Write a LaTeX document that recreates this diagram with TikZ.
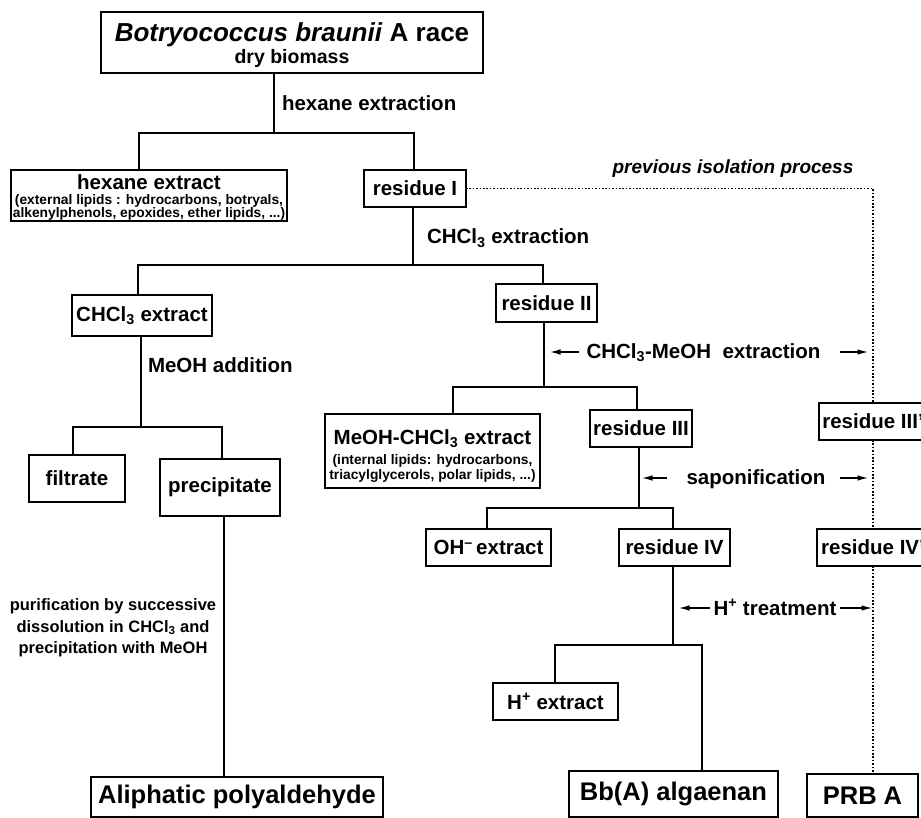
\documentclass[tikz,border=0pt]{standalone}
\usepackage{fontspec}
\setmainfont{Liberation Sans}
\usetikzlibrary{arrows.meta}
\newcommand{\fsz}[1]{\fontsize{#1}{#1}\selectfont}
\newcommand{\strt}[1]{\rule{0pt}{#1}}
\begin{document}
\begin{tikzpicture}[x=1pt,y=-1pt,
  every node/.style={inner sep=0pt, outer sep=0pt},
  box/.style={draw, line width=1.4pt, align=center, font=\bfseries\fsz{20.5}},
  lbl/.style={font=\bfseries\fsz{20.5}, anchor=base},
  conn/.style={line width=1.3pt},
  arr/.style={line width=1.2pt, -{Latex[length=10.5pt,width=5.5pt]}},
  dotl/.style={line width=1.5pt, dash pattern=on 1.5pt off 1.9pt}]
\clip (0,0) rectangle (921,818);

% boxes
\node[box, minimum width=382pt, minimum height=61pt] (top) at (292,42.5)
  {{\fsz{26}\strt{24.5pt}\textit{Botryococcus braunii} A race}\\[1.8pt]{\fsz{19.5}dry biomass}};
\node[box, minimum width=276pt, minimum height=51pt, font=\bfseries\fontsize{13.8}{13.6}\selectfont] (hexext) at (149,195.5)
  {{\fsz{20.5}\strt{19.5pt}hexane extract}\\[0.9pt](external lipids : hydrocarbons, botryals,\\alkenylphenols, epoxides, ether lipids, ...)};
\node[box, minimum width=102pt, minimum height=37pt] (res1) at (415,188.5) {residue I};
\node[box, minimum width=140pt, minimum height=41pt] (chext) at (142,315.5) {CHCl\textsubscript{3} extract};
\node[box, minimum width=101pt, minimum height=38pt] (res2) at (546.5,303) {residue II};
\node[box, minimum width=96pt, minimum height=47pt] (filt) at (77,478.5) {filtrate};
\node[box, minimum width=120pt, minimum height=57pt] (prec) at (220,487.5) {precipitate};
\node[box, minimum width=215pt, minimum height=74pt, font=\bfseries\fontsize{13.8}{14.4}\selectfont] (meohext) at (432.5,451)
  {{\fsz{20.5}\strt{25pt}MeOH-CHCl\textsubscript{3} extract}\\[5.6pt](internal lipids: hydrocarbons,\\triacylglycerols, polar lipids, ...)};
\node[box, minimum width=102pt, minimum height=37pt] (res3) at (641,428.5) {residue III};
\node[box, minimum width=108pt, minimum height=37pt] (res3p) at (873,421.5) {residue III'};
\node[box, minimum width=125pt, minimum height=37pt] (ohext) at (488.5,547.5) {OH\textsuperscript{--}\,extract};
\node[box, minimum width=111pt, minimum height=37pt] (res4) at (674.5,547.5) {residue IV};
\node[box, minimum width=112pt, minimum height=37pt] (res4p) at (873,547.5) {residue IV'};
\node[box, minimum width=125pt, minimum height=37pt] (hext) at (555.5,701.5) {H\textsuperscript{+} extract};
\node[box, minimum width=292pt, minimum height=40pt, font=\bfseries\fsz{25.5}] (aliph) at (237,797) {Aliphatic polyaldehyde};
\node[box, minimum width=209pt, minimum height=46pt, font=\bfseries\fsz{25.5}] (bba) at (673.5,794) {Bb(A) algaenan};
\node[box, minimum width=111pt, minimum height=43pt, font=\bfseries\fsz{25.5}] (prba) at (862.5,795.5) {PRB A};

% labels
\node[lbl, anchor=base west] (lhex) at (282,111) {hexane extraction};
\node[lbl, anchor=base west] (lchl) at (427,244) {CHCl\textsubscript{3} extraction};
\node[lbl, anchor=base west] (lmeoh) at (148,372) {MeOH addition};
\node[lbl, font=\bfseries\itshape\fsz{19}] (lprev) at (733,174) {previous isolation process};
\node[lbl] (lrowa) at (703.5,358.5) {CHCl\textsubscript{3}-MeOH~~extraction};
\node[lbl] (lrowb) at (756,484) {saponification};
\node[lbl] (lrowc) at (775,615) {H\textsuperscript{+} treatment};
\node[align=center, font=\bfseries\fontsize{16.5}{21.5}\selectfont] (lpur) at (113,628)
  {purification by successive\\dissolution in CHCl\textsubscript{3} and\\precipitation with MeOH};

% junctions
\coordinate (J1) at (274,133); \coordinate (L1) at (139,133); \coordinate (R1) at (414,133);
\coordinate (J2) at (413,265); \coordinate (L2) at (138,265); \coordinate (R2) at (543,265);
\coordinate (J3) at (141,427); \coordinate (L3) at (73,427);  \coordinate (R3) at (222,427);
\coordinate (J4) at (224,600);
\coordinate (J5) at (544,387); \coordinate (L5) at (453,387); \coordinate (R5) at (637,387);
\coordinate (J6) at (639,508); \coordinate (L6) at (487,508); \coordinate (R6) at (673,508);
\coordinate (J7) at (673,645); \coordinate (L7) at (555,645); \coordinate (R7) at (702,645);

\draw[conn] (top.south -| J1) -- (J1);
\draw[conn] (hexext.north -| L1) -- (L1) -- (R1) -- (res1.north -| R1);
\draw[conn] (res1.south -| J2) -- (J2);
\draw[conn] (chext.north -| L2) -- (L2) -- (R2) -- (res2.north -| R2);
\draw[conn] (chext.south -| J3) -- (J3);
\draw[conn] (filt.north -| L3) -- (L3) -- (R3) -- (prec.north -| R3);
\draw[conn] (prec.south -| J4) -- (aliph.north -| J4);
\draw[conn] (res2.south -| J5) -- (J5);
\draw[conn] (meohext.north -| L5) -- (L5) -- (R5) -- (res3.north -| R5);
\draw[conn] (res3.south -| J6) -- (J6);
\draw[conn] (ohext.north -| L6) -- (L6) -- (R6) -- (res4.north -| R6);
\draw[conn] (res4.south -| J7) -- (J7);
\draw[conn] (hext.north -| L7) -- (L7) -- (R7) -- (bba.north -| R7);

% previous isolation process (dotted)
\draw[dotl] (res1.east) -| (res3p.north);
\draw[dotl] (res3p.south) -- (res4p.north);
\draw[dotl] (res4p.south) -- (res4p.south |- prba.north);

% arrows
\coordinate (asA1) at (579,352); \coordinate (atA1) at (550,352);
\coordinate (asA2) at (840,352); \coordinate (atA2) at (868,352);
\coordinate (asB1) at (667,478); \coordinate (atB1) at (642,478);
\coordinate (asB2) at (840,478); \coordinate (atB2) at (868,478);
\coordinate (asC1) at (710,608); \coordinate (atC1) at (679,608);
\coordinate (asC2) at (840,608); \coordinate (atC2) at (872,608);
\draw[arr] (asA1) -- (atA1);
\draw[arr] (asA2) -- (atA2);
\draw[arr] (asB1) -- (atB1);
\draw[arr] (asB2) -- (atB2);
\draw[arr] (asC1) -- (atC1);
\draw[arr] (asC2) -- (atC2);
\end{tikzpicture}
\end{document}
